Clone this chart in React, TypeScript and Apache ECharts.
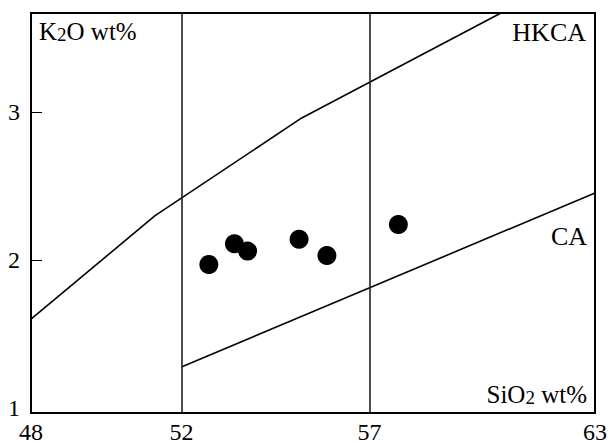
import React, { useEffect, useRef } from 'react';
import * as echarts from 'echarts';

const xTickLabels = [48, 52, 57, 63];
const yTickLabels = [1, 2, 3];
const yTickMarks = [2, 3];
const dividers = [52, 57];
const sampleSiO2 = [52.73, 53.41, 53.76, 55.13, 55.87, 57.77];
const sampleK2O = [1.97, 2.11, 2.06, 2.14, 2.03, 2.24];
const hkcaBoundaryX = [48, 51.3, 55.2, 60.5];
const hkcaBoundaryY = [1.6, 2.3, 2.96, 3.669];
const caBoundaryX = [52, 63];
const caBoundaryY = [1.277, 2.453];

const FONT = 'Liberation Serif, Times New Roman, serif';

export default function App() {
  const ref = useRef<HTMLDivElement>(null);
  useEffect(() => {
    if (!ref.current) return;
    const chart = echarts.init(ref.current, null, { renderer: 'svg' });
    chart.setOption({
      animation: false,
      backgroundColor: '#fff',
      grid: {
        left: 31,
        right: 11,
        top: 13,
        bottom: 31,
        show: true,
        borderColor: '#000',
        borderWidth: 2,
      },
      xAxis: {
        type: 'value',
        min: 48,
        max: 63,
        axisLine: { show: true, lineStyle: { color: '#000', width: 2 } },
        axisTick: { show: false },
        splitLine: { show: false },
        axisLabel: {
          customValues: xTickLabels,
          color: '#000',
          fontFamily: FONT,
          fontSize: 24,
          margin: 7,
          showMinLabel: true,
          showMaxLabel: true,
        },
      },
      yAxis: {
        type: 'value',
        min: 0.966,
        max: 3.669,
        axisLine: { show: true, lineStyle: { color: '#000', width: 2 } },
        axisTick: {
          show: true,
          inside: true,
          length: 11,
          customValues: yTickMarks,
          lineStyle: { color: '#000', width: 1 },
        },
        splitLine: { show: false },
        axisLabel: {
          customValues: yTickLabels,
          color: '#000',
          fontFamily: FONT,
          fontSize: 24,
          margin: 11,
        },
      },
      series: [
        {
          type: 'line',
          data: hkcaBoundaryX.map((x, i) => [x, hkcaBoundaryY[i]]),
          symbol: 'none',
          lineStyle: { color: '#000', width: 1.6 },
          silent: true,
          markLine: {
            silent: true,
            symbol: 'none',
            label: { show: false },
            lineStyle: { color: '#222', width: 1.6, type: 'solid' },
            data: dividers.map((d) => ({ xAxis: d })),
          },
        },
        {
          type: 'line',
          data: caBoundaryX.map((x, i) => [x, caBoundaryY[i]]),
          symbol: 'none',
          lineStyle: { color: '#000', width: 1.6 },
          silent: true,
        },
        {
          type: 'scatter',
          data: sampleSiO2.map((x, i) => [x, sampleK2O[i]]),
          symbol: 'circle',
          symbolSize: 19,
          itemStyle: { color: '#000', opacity: 1 },
        },
      ],
      graphic: [
        {
          type: 'text',
          left: 39,
          top: 19,
          style: {
            text: '{a|K}{b|2}{a|O wt%}',
            fill: '#000',
            rich: {
              a: { fontFamily: FONT, fontSize: 25, fill: '#000' },
              b: { fontFamily: FONT, fontSize: 19, fill: '#000', verticalAlign: 'bottom', padding: [6, 0, 0, 0] },
            },
          },
        },
        {
          type: 'text',
          right: 610 - 587,
          top: 382,
          style: {
            text: '{a|SiO}{b|2}{a| wt%}',
            fill: '#000',
            rich: {
              a: { fontFamily: FONT, fontSize: 25, fill: '#000' },
              b: { fontFamily: FONT, fontSize: 19, fill: '#000', verticalAlign: 'bottom', padding: [6, 0, 0, 0] },
            },
          },
        },
        {
          type: 'text',
          right: 610 - 586,
          top: 19,
          style: { text: 'HKCA', fontFamily: FONT, fontSize: 26, fill: '#000' },
        },
        {
          type: 'text',
          right: 610 - 587,
          top: 223,
          style: { text: 'CA', fontFamily: FONT, fontSize: 26, fill: '#000' },
        },
      ],
    });
    return () => chart.dispose();
  }, []);
  return (
    <div
      ref={ref}
      style={{ position: 'fixed', left: 0, top: 0, width: 610, height: 444, background: '#fff' }}
    />
  );
}
